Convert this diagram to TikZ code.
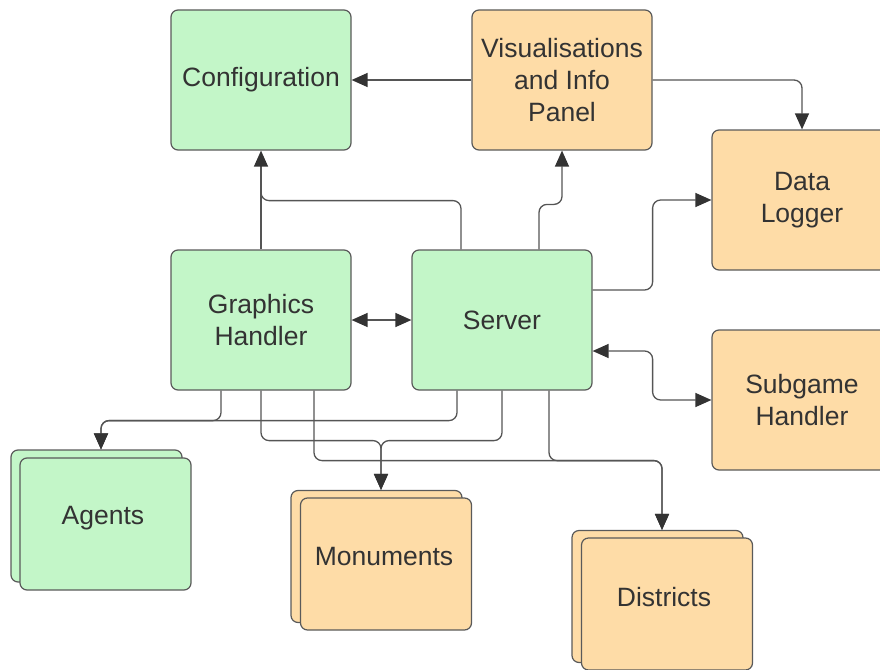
\documentclass[tikz,border=0pt]{standalone}
\usepackage{fontspec}
\setmainfont{Liberation Sans}
\usetikzlibrary{arrows.meta,calc}
\definecolor{gfill}{HTML}{C3F6C8}
\definecolor{ofill}{HTML}{FEDCA7}
\definecolor{edgec}{HTML}{5A5A5A}
\definecolor{txtc}{HTML}{333333}
\definecolor{wirec}{HTML}{555555}
\begin{document}
\begin{tikzpicture}[x=1pt,y=-1pt,
  box/.style={draw=edgec, line width=1.2pt, rounded corners=7pt, minimum width=180pt, minimum height=140pt, inner sep=0pt, align=center, text=txtc, font=\fontsize{26.5}{32}\selectfont},
  gbox/.style={box, fill=gfill},
  obox/.style={box, fill=ofill},
  sbox/.style={box, minimum width=171pt, minimum height=132pt},
  lbl/.style={text=txtc, font=\fontsize{26.5}{32}\selectfont, inner sep=0pt},
  wire/.style={draw=wirec, line width=1.3pt, rounded corners=8pt},
  arr/.style={-{Triangle[length=16pt,width=14pt,color=txtc]}},
  darr/.style={{Triangle[length=16pt,width=14pt,color=txtc]}-{Triangle[length=16pt,width=14pt,color=txtc]}},
]
\useasboundingbox (0,0) rectangle (880,669);
\clip (0,0) rectangle (880,669);

% main boxes
\node[gbox] (conf) at (261,80) {Configuration};
\node[obox] (vis) at (562,80) {Visualisations\\and Info\\Panel};
\node[obox] (log) at (802,200) {Data\\Logger};
\node[gbox] (gh) at (261,320) {Graphics\\Handler};
\node[gbox] (srv) at (502,320) {Server};
\node[obox] (sub) at (802,400) {Subgame\\Handler};

% stacked boxes
\node[sbox, fill=gfill] (agb) at (96.5,516) {};
\node[sbox, fill=gfill] (agf) at (105.5,524) {};
\node[lbl] (agt) at (103,518) {Agents};
\node[sbox, fill=ofill] (monb) at (376.5,556.5) {};
\node[sbox, fill=ofill] (monf) at (386,564) {};
\node[lbl] (mont) at (384,557) {Monuments};
\node[sbox, fill=ofill] (disb) at (657.5,596.5) {};
\node[sbox, fill=ofill] (disf) at (667,604) {};
\node[lbl] (dist) at (664,597) {Districts};

\coordinate (agtop) at ($(agb.north)+(4.5,0)$);
\coordinate (montop) at ($(monb.north)+(4.5,0)$);
\coordinate (distop) at ($(disb.north)+(4.5,0)$);

% top connectors
\draw[wire,arr] (vis.west) -- (conf.east);
\draw[wire,arr] (vis.east) -| (log.north);
\draw[wire,arr] (gh.north) -- (conf.south);
\draw[wire] ($(srv.north)+(-41,0)$) |- ($(conf.south)+(0,50)$) -- ($(conf.south)+(0,30)$);
\draw[wire,arr] ($(srv.north)+(37,0)$) -- ++(0,-45) -| (vis.south);
\draw[wire,arr] ($(srv.east)+(0,-30)$) -- ++(60,0) |- (log.west);
\draw[wire,darr] ($(srv.east)+(0,31)$) -- ++(60,0) |- (sub.west);
\draw[wire,darr] (gh.east) -- (srv.west);

% bottom connectors
\draw[wire,arr] ($(gh.south)+(-40,0)$) -- ++(0,30) -| (agtop);
\draw[wire,arr] ($(srv.south)+(-45,0)$) -- ++(0,30) -| (agtop);
\draw[wire,arr] (gh.south) -- ++(0,50) -| (montop);
\draw[wire,arr] (srv.south) -- ++(0,50) -| (montop);
\draw[wire,arr] ($(gh.south)+(53,0)$) -- ++(0,70) -| (distop);
\draw[wire,arr] ($(srv.south)+(47,0)$) -- ++(0,70) -| (distop);
\end{tikzpicture}
\end{document}
